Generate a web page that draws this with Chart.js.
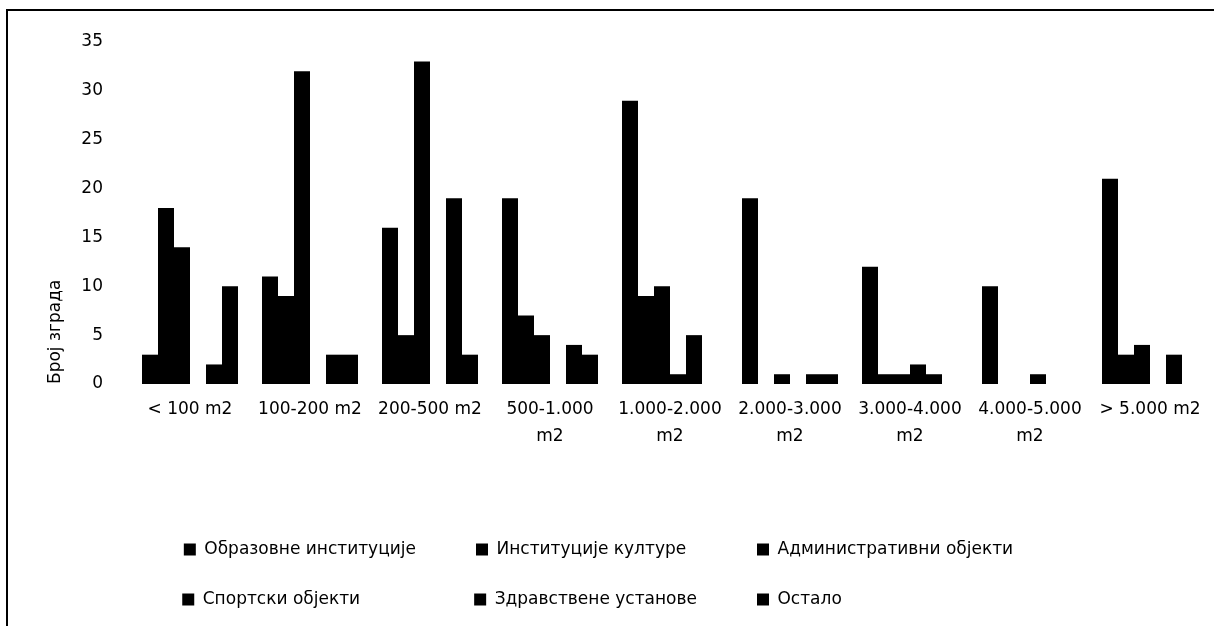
<!DOCTYPE html>
<html lang="sr">

<head>
    <meta charset="UTF-8">
    <meta name="viewport" content="width=device-width, initial-scale=1.0">
    <title>Број зграда према површини</title>
    <script src="https://cdn.jsdelivr.net/npm/chart.js"></script>
    <style>
        body {
            margin: 0;
            background: #fff;
        }

        .okvir {
            position: relative;
            width: 1214px;
            height: 626px;
            overflow: hidden;
        }

        /* linija okvira gore i levo, kao na skeniranoj slici */
        .linija {
            position: absolute;
            left: 6px;
            top: 9px;
            width: 1300px;
            height: 700px;
            border-left: 2px solid #000;
            border-top: 2px solid #000;
        }

        .grafik {
            position: absolute;
            left: 0;
            top: 0;
            width: 1214px;
            height: 626px;
        }
    </style>
</head>

<body>
    <div class="okvir">
        <div class="linija"></div>
        <div class="grafik">
            <canvas id="grafikon"></canvas>
        </div>
    </div>
</body>

</html>

<script>
    // kategorije povrsine (x osa)
    const kategorije = [
        '< 100 m2',
        '100-200 m2',
        '200-500 m2',
        ['500-1.000', 'm2'],
        ['1.000-2.000', 'm2'],
        ['2.000-3.000', 'm2'],
        ['3.000-4.000', 'm2'],
        ['4.000-5.000', 'm2'],
        '> 5.000 m2'
    ];

    const nazivi = [
        'Образовне институције',
        'Институције културе',
        'Административни објекти',
        'Спортски објекти',
        'Здравствене установе',
        'Остало'
    ];

    // broj zgrada po seriji
    const obrazovne = [3, 11, 16, 19, 29, 19, 12, 10, 21];
    const kultura = [18, 9, 5, 7, 9, 0, 1, 0, 3];
    const administrativni = [14, 32, 33, 5, 10, 1, 1, 0, 4];
    const sportski = [0, 0, 0, 0, 1, 0, 2, 1, 0];
    const zdravstvene = [2, 3, 19, 4, 5, 1, 1, 0, 3];
    const ostalo = [10, 3, 3, 3, 0, 1, 0, 0, 0];

    const vrednosti = [obrazovne, kultura, administrativni, sportski, zdravstvene, ostalo];

    const slova = { family: '"DejaVu Sans", sans-serif', size: 17 };

    // legenda u tri kolone: tekst se dopuni razmacima do iste sirine
    const mera = document.createElement('canvas').getContext('2d');
    mera.font = '17px "DejaVu Sans"';
    const sirineKolona = [238, 228, 290];

    function dopuni(tekst, sirina) {
        while (mera.measureText(tekst + ' ').width <= sirina + 2.7) {
            tekst += ' ';
        }
        return tekst;
    }

    const skupovi = vrednosti.map(function (niz, i) {
        return {
            label: nazivi[i],
            data: niz,
            backgroundColor: '#000',
            borderWidth: 0,
            categoryPercentage: 0.8,
            barPercentage: 1.0
        };
    });

    const config = {
        type: 'bar',
        data: {
            labels: kategorije,
            datasets: skupovi
        },
        options: {
            responsive: true,
            maintainAspectRatio: false,
            animation: false,
            layout: {
                padding: { top: 42, left: 41, right: 4, bottom: 8 }
            },
            scales: {
                x: {
                    grid: { display: false, drawTicks: false },
                    border: { display: false },
                    ticks: {
                        color: '#000',
                        font: { family: slova.family, size: 17, lineHeight: 1.6 },
                        padding: 12,
                        maxRotation: 0,
                        autoSkip: false
                    },
                    afterFit: function (osa) {
                        osa.height = 124;
                    }
                },
                y: {
                    min: 0,
                    max: 35,
                    grid: { display: false, drawTicks: false },
                    border: { display: false },
                    ticks: {
                        stepSize: 5,
                        color: '#000',
                        font: slova,
                        padding: 27
                    },
                    title: {
                        display: true,
                        text: 'Број зграда',
                        color: '#000',
                        font: slova,
                        align: 'start',
                        padding: { top: 4, bottom: 4 }
                    },
                    afterFit: function (osa) {
                        osa.width = 89;
                    }
                }
            },
            plugins: {
                legend: {
                    position: 'bottom',
                    labels: {
                        color: '#000',
                        font: slova,
                        boxWidth: 12,
                        boxHeight: 12,
                        padding: 33,
                        generateLabels: function (chart) {
                            const stavke = Chart.defaults.plugins.legend.labels.generateLabels(chart);
                            stavke.forEach(function (s, i) {
                                s.text = dopuni(s.text, sirineKolona[i % 3]);
                            });
                            return stavke;
                        }
                    }
                },
                tooltip: { enabled: true }
            }
        }
    };

    const grafikon = new Chart(document.getElementById('grafikon'), config);
</script>
